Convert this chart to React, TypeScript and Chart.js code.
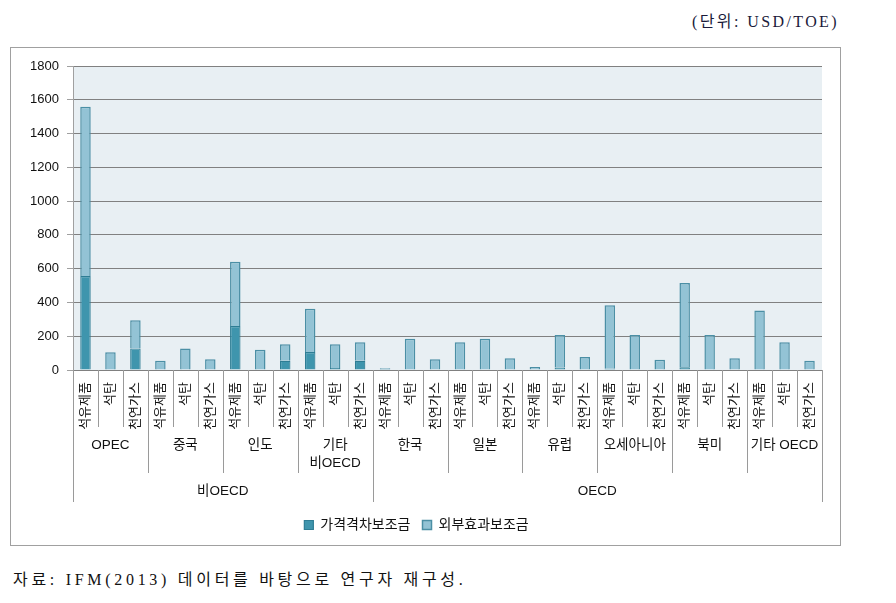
import React, { useEffect, useRef } from "react";
import { Chart, registerables } from "chart.js";

Chart.register(...registerables);

const fuels = ["석유제품", "석탄", "천연가스"];
const groups = ["OPEC", "중국", "인도", "기타\n비OECD", "한국", "일본", "유럽", "오세아니아", "북미", "기타 OECD"];
const topGroups = ["비OECD", "OECD"];
const topGroupSizes = [4, 6];

const priceGap = [556, 0, 128, 0, 0, 0, 260, 0, 55, 107, 12, 55, 6, 0, 0, 0, 0, 0, 0, 15, 0, 8, 0, 0, 16, 0, 0, 0, 0, 0];
const externality = [1003, 105, 166, 55, 128, 63, 381, 120, 97, 256, 140, 109, 4, 185, 63, 164, 185, 69, 18, 192, 77, 375, 207, 61, 499, 207, 69, 353, 164, 55];

const yTicksMax = 1800;
const yStep = 200;

const FONT = '"Liberation Sans", "Noto Sans CJK KR", sans-serif';
const XAXIS_H = 136;

const multiLevelPlugin = {
  id: "multiLevel",
  beforeDraw(chart: any) {
    const { ctx, chartArea } = chart;
    ctx.save();
    ctx.fillStyle = "#e8eff3";
    ctx.fillRect(chartArea.left, chartArea.top, chartArea.right - chartArea.left, chartArea.bottom - chartArea.top);
    ctx.restore();
  },
  afterDraw(chart: any) {
    const { ctx, chartArea } = chart;
    const x = chart.scales.x;
    const n = chart.data.labels.length;
    const half = (x.getPixelForValue(1) - x.getPixelForValue(0)) / 2;
    const base = chartArea.bottom;
    const fuelBottom = base + 57;
    const groupBottom = base + 103;
    const topBottom = base + 132;
    const bound = (i: number) => (i < n ? x.getPixelForValue(i) - half : x.getPixelForValue(n - 1) + half);
    ctx.save();
    ctx.strokeStyle = "#9a9a9a";
    ctx.lineWidth = 1;
    const topBounds = new Set<number>();
    let acc = 0;
    topBounds.add(0);
    topGroupSizes.forEach((s) => {
      acc += s * fuels.length;
      topBounds.add(acc);
    });
    for (let i = 0; i <= n; i++) {
      let bottom = fuelBottom;
      if (i % fuels.length === 0) bottom = groupBottom;
      if (topBounds.has(i)) bottom = topBottom;
      const px = Math.round(bound(i)) + 0.5;
      ctx.beginPath();
      ctx.moveTo(px, base);
      ctx.lineTo(px, bottom);
      ctx.stroke();
    }
    ctx.fillStyle = "#111";
    ctx.font = `13.5px ${FONT}`;
    ctx.textAlign = "center";
    ctx.textBaseline = "middle";
    groups.forEach((g, gi) => {
      const cx = (bound(gi * 3) + bound(gi * 3 + 3)) / 2;
      const lines = g.split("\n");
      lines.forEach((l, li) => {
        ctx.fillText(l, cx, base + 75 + li * 18);
      });
    });
    let start = 0;
    topGroups.forEach((t, ti) => {
      const end = start + topGroupSizes[ti] * fuels.length;
      const cx = (bound(start) + bound(end)) / 2;
      ctx.fillText(t, cx, base + 121);
      start = end;
    });
    ctx.restore();
  },
};

export default function App() {
  const ref = useRef<HTMLCanvasElement | null>(null);
  useEffect(() => {
    if (!ref.current) return;
    const labels = groups.flatMap(() => fuels);
    const chart = new Chart(ref.current, {
      type: "bar",
      data: {
        labels,
        datasets: [
          {
            label: "가격격차보조금",
            data: priceGap,
            backgroundColor: "#3f95ad",
            borderColor: "#2e7d94",
            borderWidth: 1.2,
            barPercentage: 0.42,
            categoryPercentage: 1,
          },
          {
            label: "외부효과보조금",
            data: externality,
            backgroundColor: "#93c3d5",
            borderColor: "#4b8fa5",
            borderWidth: 1.5,
            barPercentage: 0.42,
            categoryPercentage: 1,
          },
        ],
      },
      options: {
        animation: false,
        responsive: true,
        maintainAspectRatio: false,
        layout: { padding: { left: 0, right: 18, top: 18, bottom: 3 } },
        plugins: {
          legend: {
            position: "bottom",
            labels: {
              boxWidth: 9,
              boxHeight: 9,
              padding: 12,
              color: "#111",
              font: { size: 14, family: FONT },
            },
          },
          tooltip: { enabled: false },
        },
        scales: {
          x: {
            stacked: true,
            grid: { display: false },
            border: { display: false },
            ticks: {
              autoSkip: false,
              maxRotation: 90,
              minRotation: 90,
              padding: 4,
              color: "#111",
              font: { size: 13, family: FONT },
            },
            afterFit: (s: any) => {
              s.height = XAXIS_H;
            },
          },
          y: {
            stacked: true,
            min: 0,
            max: yTicksMax,
            ticks: {
              stepSize: yStep,
              padding: 8,
              color: "#111",
              font: { size: 13, family: FONT },
              callback: (v: any) => String(v),
            },
            grid: { color: "#808080", lineWidth: 1, tickLength: 6, tickColor: "#a0a0a0" },
            border: { color: "#a0a0a0", width: 1 },
            afterFit: (s: any) => {
              s.width = 62;
            },
          },
        },
      },
      plugins: [multiLevelPlugin],
    });
    return () => chart.destroy();
  }, []);

  return (
    <div style={{ position: "absolute", left: 0, top: 0, width: 896, height: 603, background: "#fff" }}>
      <div
        style={{
          position: "absolute",
          left: 692,
          top: 8,
          fontFamily: '"Liberation Serif", "Noto Sans CJK KR", serif',
          fontSize: 16,
          color: "#1a1a3a",
          whiteSpace: "nowrap",
          letterSpacing: 2.4,
        }}
      >
        (단위: USD/TOE)
      </div>
      <div
        style={{
          position: "absolute",
          left: 10,
          top: 47,
          width: 829,
          height: 497,
          border: "1px solid #a0a0a0",
        }}
      >
        <canvas ref={ref} />
      </div>
      <div
        style={{
          position: "absolute",
          left: 13,
          top: 566,
          fontFamily: '"Liberation Serif", "Noto Sans CJK KR", serif',
          fontSize: 16,
          color: "#111",
          whiteSpace: "nowrap",
          letterSpacing: 3.7,
        }}
      >
        자료: IFM(2013) 데이터를 바탕으로 연구자 재구성.
      </div>
    </div>
  );
}
